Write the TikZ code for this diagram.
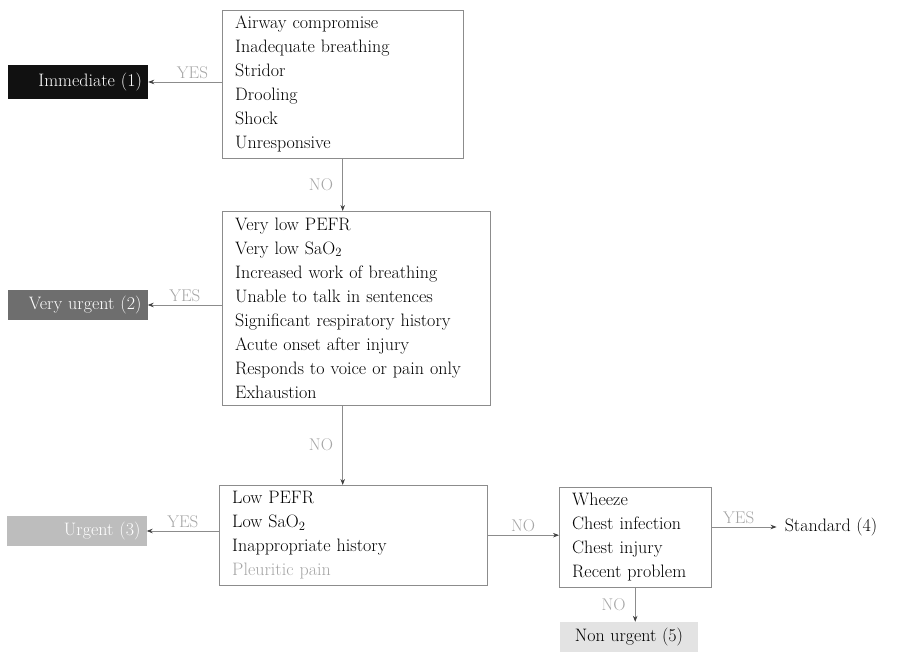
\documentclass[tikz,border=0pt]{standalone}
\usepackage{xcolor}
\usepackage{tikz}
\usetikzlibrary{arrows.meta, positioning}
\definecolor{triblack}{HTML}{111111}
\definecolor{trigrey}{HTML}{6E6E6E}
\definecolor{trisilver}{HTML}{BDBDBD}
\definecolor{trimist}{HTML}{E3E3E3}
\definecolor{triline}{HTML}{8C8C8C}
\definecolor{trilabel}{HTML}{A5A5A5}

\begin{document}
\begin{tikzpicture}[x=1pt, y=1pt,
    crit/.style={draw=triline, anchor=north west, align=left, inner xsep=13pt,
                 inner ysep=4pt, text width=#1, font=\fontsize{18}{24}\selectfont},
    cat/.style={fill=#1, text=white, minimum height=30pt, text width=128pt,
                align=right, inner xsep=6pt, font=\fontsize{18}{20}\selectfont},
    arr/.style={draw=triline, line width=0.7pt,
                -{Stealth[length=6pt, width=4.5pt, color=black!75]}},
    lbl/.style={text=trilabel, font=\fontsize{17}{18}\selectfont},
]
    \useasboundingbox (0, 0) rectangle (898, 652);

    % criteria boxes
    \node[crit=215pt, minimum height=148pt] (q1) at (222, 642)
        {Airway compromise\\ Inadequate breathing\\ Stridor\\ Drooling\\ Shock\\ Unresponsive};
    \node[crit=242pt, minimum height=194pt] (q2) at (222, 441)
        {Very low PEFR\\ Very low SaO\textsubscript{2}\\ Increased work of breathing\\
         Unable to talk in sentences\\ Significant respiratory history\\
         Acute onset after injury\\ Responds to voice or pain only\\ Exhaustion};
    \node[crit=242pt, minimum height=100pt] (q3) at (219, 167)
        {Low PEFR\\ Low SaO\textsubscript{2}\\ Inappropriate history\\ {\color{trilabel}Pleuritic pain}};
    \node[crit=126pt, minimum height=100pt] (q4) at (559, 165)
        {Wheeze\\ Chest infection\\ Chest injury\\ Recent problem};

    % triage categories
    \node[cat=triblack, minimum height=34pt] (imm) at (78, 570) {Immediate (1)};
    \node[cat=trigrey] (vurg) at (77.5, 347) {Very urgent (2)};
    \node[cat=trisilver] (urg) at (76.5, 121) {Urgent (3)};
    \node[inner xsep=8pt, font=\fontsize{18}{20}\selectfont] (std) at (831, 125) {Standard (4)};
    \node[fill=trimist, minimum width=138pt, minimum height=30pt,
          font=\fontsize{18}{20}\selectfont] (nurg) at (629, 15) {Non urgent (5)};

    % YES branches
    \draw[arr] (q1.west |- imm.east) -- node[lbl, above, pos=0.4] {YES} (imm.east);
    \draw[arr] (q2.west |- vurg.east) -- node[lbl, above, pos=0.5] {YES} (vurg.east);
    \draw[arr] (q3.west |- urg.east) -- node[lbl, above, pos=0.5] {YES} (urg.east);
    \draw[arr] (q4.east |- std.west) -- node[lbl, above, pos=0.42] {YES} (std.west);

    % NO branches
    \draw[arr] (q1.south) -- node[lbl, left=6pt] {NO} (q1.south |- q2.north);
    \draw[arr] (q1.south |- q2.south) -- node[lbl, left=6pt] {NO} (q1.south |- q3.north);
    \draw[arr] (q3.east) -- node[lbl, above] {NO} (q3.east -| q4.west);
    \draw[arr] (q4.south) -- node[lbl, left=6pt] {NO} (q4.south |- nurg.north);
\end{tikzpicture}
\end{document}
